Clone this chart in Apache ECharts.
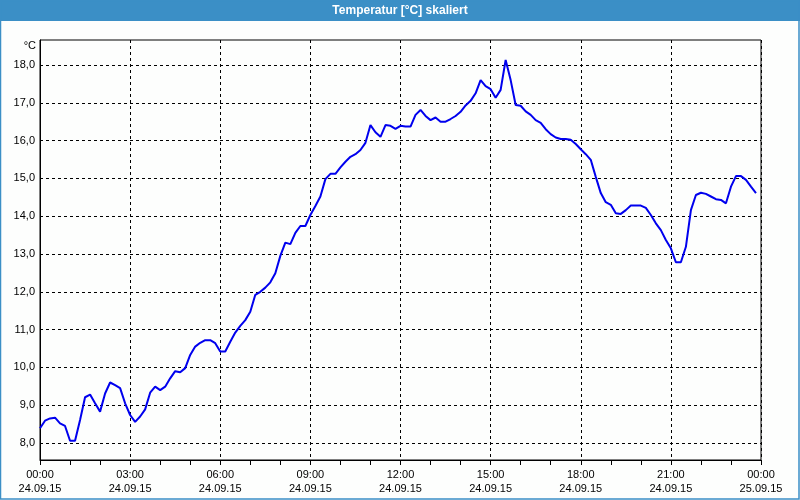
<!DOCTYPE html>
<html>
<head>
<meta charset="utf-8">
<script src="https://cdn.jsdelivr.net/npm/echarts@6/dist/echarts.min.js"></script>
<style>html,body{margin:0;padding:0;background:#fdfefd;}#c{width:800px;height:500px;}</style>
</head>
<body>
<div id="c"></div>
<script>
// Temperature every 10 minutes, 24.09.15 00:00 .. 23:50
const temps = [
 8.39, 8.59, 8.65, 8.67, 8.52, 8.45, 8.06, 8.06, 8.61, 9.21, 9.28, 9.05,
 8.83, 9.31, 9.60, 9.53, 9.45, 9.05, 8.74, 8.56, 8.70, 8.89, 9.33, 9.49,
 9.40, 9.49, 9.71, 9.90, 9.87, 9.98, 10.33, 10.55, 10.65, 10.72, 10.72, 10.64,
 10.42, 10.42, 10.68, 10.92, 11.10, 11.25, 11.47, 11.92, 12.00, 12.11, 12.25, 12.49,
 12.95, 13.30, 13.26, 13.56, 13.74, 13.74, 14.03, 14.27, 14.52, 14.98, 15.12, 15.12,
 15.29, 15.44, 15.57, 15.64, 15.75, 15.94, 16.41, 16.22, 16.10, 16.41, 16.39, 16.31,
 16.39, 16.37, 16.37, 16.68, 16.81, 16.65, 16.54, 16.61, 16.50, 16.50, 16.57, 16.65,
 16.76, 16.93, 17.05, 17.25, 17.60, 17.44, 17.36, 17.13, 17.34, 18.13, 17.60, 16.94,
 16.92, 16.77, 16.68, 16.54, 16.47, 16.30, 16.17, 16.08, 16.04, 16.04, 16.02, 15.91,
 15.77, 15.64, 15.49, 15.04, 14.61, 14.37, 14.30, 14.08, 14.06, 14.16, 14.28, 14.28,
 14.28, 14.22, 14.03, 13.81, 13.63, 13.37, 13.15, 12.78, 12.78, 13.19, 14.16, 14.56,
 14.62, 14.59, 14.52, 14.45, 14.43, 14.34, 14.78, 15.06, 15.06, 14.96, 14.78, 14.61
];
const sampleMinutes = 10;
const xTickLabels = [
 '00:00\n24.09.15', '03:00\n24.09.15', '06:00\n24.09.15', '09:00\n24.09.15',
 '12:00\n24.09.15', '15:00\n24.09.15', '18:00\n24.09.15', '21:00\n24.09.15',
 '00:00\n25.09.15'
];
const yTickValues = [8, 9, 10, 11, 12, 13, 14, 15, 16, 17, 18];
const yMin = 7.55, yMax = 18.66;

const seriesData = temps.map((v, i) => [i * sampleMinutes / 60, v]);

const chart = echarts.init(document.getElementById('c'), null, {renderer: 'canvas'});
const font = 'Liberation Sans';
chart.setOption({
  animation: false,
  backgroundColor: '#fdfefd',
  grid: {left: 40, right: 39, top: 40, bottom: 40, show: true, borderColor: '#000', borderWidth: 1, backgroundColor: 'transparent'},
  graphic: [
    {type: 'rect', shape: {x: 0, y: 0, width: 800, height: 21}, style: {fill: '#3b8fc6'}, z: 10},
    {type: 'text', x: 400, y: 11, style: {text: 'Temperatur [°C] skaliert', fill: '#fff', font: 'bold 12px "Liberation Sans"', align: 'center', verticalAlign: 'middle'}, z: 11},
    {type: 'rect', shape: {x: 0.5, y: 0.5, width: 798.5, height: 498.5}, style: {fill: null, stroke: '#3b8fc6', lineWidth: 1.5}, z: 10},
    {type: 'text', x: 36, y: 46, style: {text: '°C', fill: '#000', font: '11px "Liberation Sans"', align: 'right', verticalAlign: 'middle'}, z: 11}
  ],
  xAxis: {
    type: 'value', min: 0, max: 24, interval: 3,
    axisLine: {show: true, lineStyle: {color: '#000', width: 1}},
    axisTick: {show: true, length: 5, lineStyle: {color: '#000'}},
    minorTick: {show: true, splitNumber: 3, length: 5, lineStyle: {color: '#000'}},
    splitLine: {show: true, lineStyle: {color: '#000', type: [3, 3], width: 1}},
    axisLabel: {
      margin: 8, color: '#000', fontFamily: font, fontSize: 11, lineHeight: 14,
      formatter: v => xTickLabels[Math.round(v / 3)] || ''
    }
  },
  yAxis: {
    type: 'value', min: yMin, max: yMax,
    axisLine: {show: true, lineStyle: {color: '#000', width: 1}},
    axisTick: {show: false},
    splitLine: {show: false},
    axisLabel: {
      customValues: yTickValues, margin: 5, color: '#000', fontFamily: font, fontSize: 11,
      formatter: v => v.toFixed(1).replace('.', ',')
    }
  },
  series: [{
    type: 'line', data: seriesData, showSymbol: false, symbol: 'none',
    lineStyle: {color: '#0000ee', width: 2}, z: 5,
    markLine: {
      silent: true, symbol: 'none', label: {show: false},
      lineStyle: {color: '#000', type: [3, 3], width: 1},
      data: yTickValues.map(v => ({yAxis: v}))
    }
  }]
});
</script>
</body>
</html>
